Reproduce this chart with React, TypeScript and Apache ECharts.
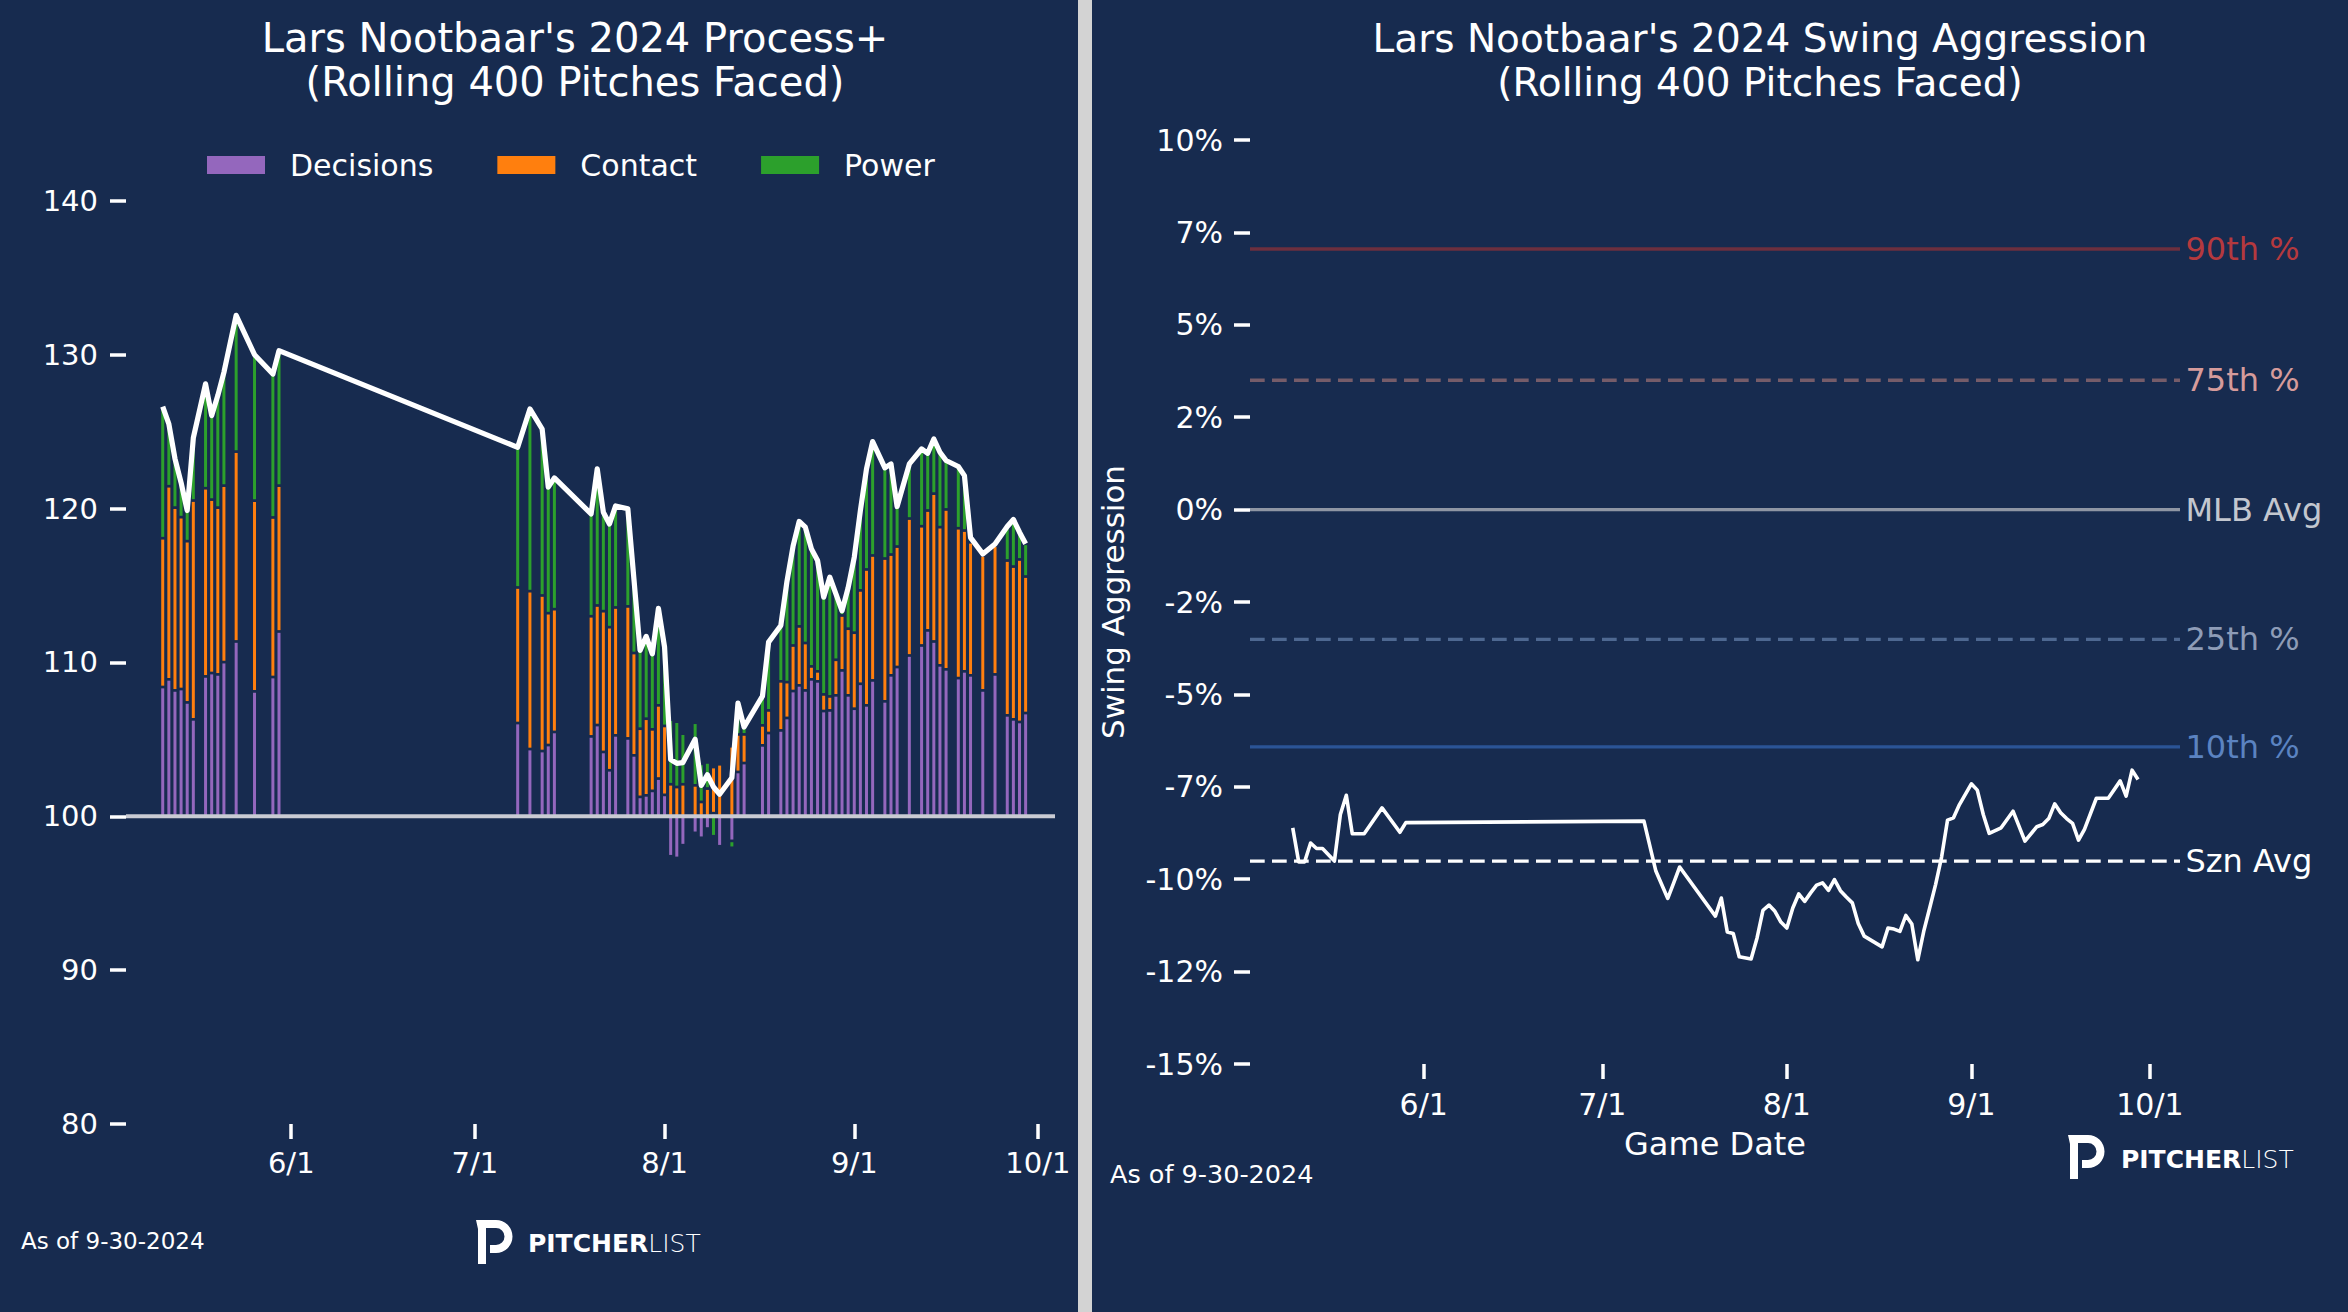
import React, { useEffect, useRef } from 'react';
import * as echarts from 'echarts';

// ---------------- data ----------------
const gameDates = [
  '2024-05-11','2024-05-12','2024-05-13','2024-05-14','2024-05-15','2024-05-16','2024-05-18','2024-05-19','2024-05-20','2024-05-21','2024-05-23','2024-05-26','2024-05-29','2024-05-30',
  '2024-07-08','2024-07-10','2024-07-12','2024-07-13','2024-07-14','2024-07-20','2024-07-21','2024-07-22','2024-07-23','2024-07-24','2024-07-26','2024-07-27','2024-07-28','2024-07-29','2024-07-30','2024-07-31','2024-08-01','2024-08-02','2024-08-03',
  '2024-08-04','2024-08-06','2024-08-07','2024-08-08','2024-08-09','2024-08-10','2024-08-12','2024-08-13','2024-08-14','2024-08-17','2024-08-18','2024-08-20','2024-08-21','2024-08-22','2024-08-23','2024-08-24','2024-08-25','2024-08-26','2024-08-27','2024-08-28','2024-08-29','2024-08-30','2024-08-31','2024-09-01','2024-09-02',
  '2024-09-03','2024-09-04','2024-09-06','2024-09-07','2024-09-08','2024-09-10','2024-09-12','2024-09-13','2024-09-14','2024-09-15','2024-09-16','2024-09-18','2024-09-19','2024-09-20','2024-09-22','2024-09-24','2024-09-26','2024-09-27','2024-09-28','2024-09-29',
];
// components above/below 100
const decisions = [
  8.4, 8.9, 8.18, 8.27, 7.4, 6.3, 9.09, 9.31, 9.22, 10.02, 11.36, 8.12, 9.05, 12.01,
  6.06, 4.37, 4.24, 4.63, 5.48, 5.19, 5.93, 4.18, 2.99, 5.26, 5.06, 3.96, 1.26, 1.36, 1.65, 2.45, 1.39, -2.6, -2.71,
  -1.88, -1.08, -1.4, -0.8, 0.2, -1.95, -1.6, 2.88, 3.46, 4.61, 5.41, 5.58, 6.39, 8.14, 8.51, 8.18, 8.9, 8.77, 6.84, 6.88, 7.86, 9.48, 7.86, 6.99, 8.61,
  7.21, 8.83, 7.47, 9.16, 9.7, 10.45, 11.1, 12.08, 11.36, 9.81, 9.55, 8.98, 9.42, 9.16, 8.18, 9.22, 6.56, 6.3, 6.13, 6.71,
];
const contact = [
  9.67, 12.55, 11.88, 11.17, 10.48, 14.22, 12.23, 11.27, 10.84, 11.47, 12.34, 12.4, 10.37, 9.48,
  8.81, 10.26, 10.11, 8.57, 7.98, 7.81, 7.77, 9.15, 9.3, 8.31, 8.58, 6.65, 4.43, 4.98, 4.0, 4.76, 4.48, 2.08, 1.9,
  2.08, 2.01, 0.93, 1.8, 3.0, 3.38, 4.55, 2.44, 1.86, 1.3, 1.47, 3.19, 2.33, 2.96, 3.83, 3.08, 0.84, 0.65, 1.08, 0.91, 2.31, 3.57, 4.33, 4.94, 6.07,
  8.83, 8.12, 9.28, 7.85, 7.83, 8.9, 7.75, 7.79, 9.61, 8.98, 10.39, 9.74, 9.15, 8.65, 8.77, 8.38, 10.06, 9.93, 10.56, 8.87,
];
const power = [
  8.55, 4.05, 3.19, 2.25, 1.99, 4.07, 6.78, 5.46, 7.28, 7.36, 8.86, 9.48, 9.32, 8.77,
  9.11, 11.84, 10.82, 8.19, 8.53, 6.65, 8.88, 6.43, 6.71, 6.6, 6.34, 4.8, 5.09, 5.35, 4.91, 6.3, 5.13, 4.2, 4.25,
  3.29, 4.07, 2.48, 1.7, -1.3, 0, -0.45, 2.04, 0.48, 1.9, 4.44, 3.63, 6.54, 6.45, 6.82, 7.53, 7.64, 7.2, 6.32, 7.75, 4.29, 0.3, 2.66, 4.91, 5.19,
  6.54, 7.4, 5.89, 5.89, 2.6, 3.55, 5.02, 3.72, 3.55, 4.87, 3.18, 4.01, 3.57, 0.3, 0.1, 0.1, 2.21, 3.06, 1.77, 2.13,
];

const swingDates = [
  '2024-05-10','2024-05-11','2024-05-12','2024-05-13','2024-05-14','2024-05-15','2024-05-17','2024-05-18','2024-05-19','2024-05-20','2024-05-22','2024-05-25','2024-05-28','2024-05-29',
  '2024-07-08','2024-07-10','2024-07-12','2024-07-13','2024-07-14','2024-07-20','2024-07-21','2024-07-22','2024-07-23','2024-07-24','2024-07-26','2024-07-27','2024-07-28','2024-07-29','2024-07-30','2024-07-31',
  '2024-08-01','2024-08-02','2024-08-03','2024-08-04','2024-08-05','2024-08-06','2024-08-07','2024-08-08','2024-08-09','2024-08-10','2024-08-11','2024-08-12','2024-08-13','2024-08-14',
  '2024-08-17','2024-08-18','2024-08-19','2024-08-20','2024-08-21','2024-08-22','2024-08-23','2024-08-24','2024-08-25','2024-08-26','2024-08-27','2024-08-28','2024-08-29','2024-08-30',
  '2024-09-01','2024-09-02','2024-09-03','2024-09-04','2024-09-06','2024-09-08','2024-09-10','2024-09-12','2024-09-13','2024-09-14','2024-09-15','2024-09-16','2024-09-17','2024-09-18','2024-09-19','2024-09-20','2024-09-22','2024-09-24','2024-09-26','2024-09-27','2024-09-28','2024-09-29',
];
const swingValues = [
  -8.61, -9.53, -9.53, -9.02, -9.17, -9.17, -9.51, -8.25, -7.73, -8.77, -8.77, -8.07, -8.73, -8.47,
  -8.43, -9.78, -10.52, -10.1, -9.67, -11.0, -10.51, -11.43, -11.47, -12.1, -12.16, -11.59, -10.84, -10.7, -10.87, -11.16,
  -11.32, -10.78, -10.4, -10.6, -10.37, -10.16, -10.1, -10.3, -10.01, -10.31, -10.48, -10.64, -11.2, -11.54,
  -11.83, -11.32, -11.35, -11.41, -10.98, -11.21, -12.18, -11.41, -10.78, -10.14, -9.4, -8.4, -8.34, -7.98,
  -7.42, -7.59, -8.25, -8.76, -8.61, -8.16, -8.97, -8.58, -8.52, -8.36, -7.96, -8.2, -8.36, -8.49, -8.94, -8.65, -7.81, -7.81, -7.34, -7.75, -7.05, -7.3,
];

const refNames = ['90th %', '75th %', 'MLB Avg', '25th %', '10th %', 'Szn Avg'];
const refValues = [7.05, 3.5, 0, -3.51, -6.42, -9.51];

const monthTicks = ['2024-06-01', '2024-07-01', '2024-08-01', '2024-09-01', '2024-10-01'];
const monthLabels = ['6/1', '7/1', '8/1', '9/1', '10/1'];
const processTickLabels = ['80', '90', '100', '110', '120', '130', '140'];
const swingTickLabels = ['-15%', '-12%', '-10%', '-7%', '-5%', '-2%', '0%', '2%', '5%', '7%', '10%'];

// ---------------- styling ----------------
const BG = '#172b4f';
const FONT = "'DejaVu Sans', 'Noto Sans', sans-serif";
const DAY = 86400000;
const ts = (s: string) => Date.parse(s + 'T00:00:00Z');
const JUN1 = ts('2024-06-01');
const refLineColors = ['#6d2f3e', '#765c69', '#8f96a4', '#4e6891', '#2b5496', '#ffffff'];
const refLabelColors = ['#b5393e', '#d69b9b', '#c3c7cf', '#8e9cb7', '#5b83c1', '#ffffff'];
const refDashed = [false, true, false, true, false, true];
const BAR_W = 3.0;   // visible bar width (px)
const BAR_GAP = 1.35; // dark edge between stacked pieces (px, each side)

const P_PATH = 'M0,0 L20,0 A16.5,16.5 0 0 1 20,33 L14,33 L14,25 L20,25 A8.5,8.5 0 0 0 20,8 L10,8 L10,44 L2,44 L2,9 Z';
let registered = false;
function ensureShape() {
  if (registered) return;
  echarts.graphic.registerShape('plogo', echarts.graphic.extendPath(P_PATH, {}) as any);
  registered = true;
}

function monthLabel(v: number) {
  const mt = monthTicks.map(ts);
  for (let i = 0; i < mt.length; i++) if (Math.abs(mt[i] - v) < DAY / 2) return monthLabels[i];
  return '';
}

function logo(x: number, y: number, tx: number, ty: number) {
  return [
    { type: 'plogo', x, y, style: { fill: '#ffffff' }, silent: true },
    {
      type: 'text', x: tx, y: ty, silent: true,
      style: {
        text: '{b|PITCHER}{l|LIST}', align: 'left', verticalAlign: 'middle',
        rich: {
          b: { fontFamily: FONT, fontWeight: 'bold', fontSize: 25, fill: '#ffffff' },
          l: { fontFamily: FONT, fontWeight: 200, fontSize: 25, fill: '#ffffff' },
        },
      },
    },
  ];
}

// stacked piece k of a Process+ bar, same-sign stacking from 100
function makeRenderItem(k: number, color: string) {
  return (params: any, api: any) => {
    const t = api.value(0);
    const vals = [api.value(1), api.value(2), api.value(3)];
    let pos = 0, neg = 0, from = 0, to = 0;
    for (let j = 0; j <= k; j++) {
      const v = vals[j];
      if (v >= 0) { from = pos; to = pos + v; pos = to; } else { from = neg; to = neg + v; neg = to; }
    }
    const p1 = api.coord([t, from]);
    const p2 = api.coord([t, to]);
    const yTop = Math.min(p1[1], p2[1]) + BAR_GAP;
    const yBot = Math.max(p1[1], p2[1]) - BAR_GAP;
    if (yBot - yTop <= 0.2) return null;
    return {
      type: 'rect',
      shape: { x: p1[0] - BAR_W / 2, y: yTop, width: BAR_W, height: yBot - yTop },
      style: { fill: color },
    };
  };
}

function buildOption() {
  const gts = gameDates.map(ts);
  const sts = swingDates.map(ts);
  const mts = monthTicks.map(ts);
  const xMinL = JUN1 - 27.0 * DAY;
  const xMaxL = JUN1 + 124.8 * DAY;
  const xMinR = JUN1 - 29.18 * DAY;
  const xMaxR = JUN1 + 127.05 * DAY;

  const colors = ['#9467bd', '#ff7f0e', '#2ca02c'];
  const names = ['Decisions', 'Contact', 'Power'];
  const barData = gts.map((t, i) => [t, decisions[i], contact[i], power[i]]);
  const bars = names.map((n, k) => ({
    type: 'custom', name: n, xAxisIndex: 0, yAxisIndex: 0,
    data: barData, encode: { x: 0, y: k + 1 },
    renderItem: makeRenderItem(k, colors[k]),
    itemStyle: { color: colors[k] },
    clip: true, silent: true, z: 2,
  }));

  const totals = gts.map((t, i) => [t, decisions[i] + contact[i] + power[i]]);

  const refSeries = refNames.map((n, k) => ({
    type: 'line', name: n, xAxisIndex: 1, yAxisIndex: 1,
    data: [[xMinR, refValues[k]], [xMaxR, refValues[k]]],
    symbol: 'none', silent: true, z: 2,
    lineStyle: { color: refLineColors[k], width: 3.4, type: refDashed[k] ? [14.7, 7.3] : 'solid' },
    endLabel: { show: true, formatter: n, color: refLabelColors[k], fontSize: 32, fontFamily: FONT, distance: 5.5 },
  }));

  const tickStyle = { color: '#ffffff', width: 3.5 };

  return {
    animation: false,
    backgroundColor: BG,
    textStyle: { fontFamily: FONT },
    grid: [
      { left: 126, top: 200.8, width: 929, height: 923.2, containLabel: false },
      { left: 1250, top: 140, width: 930, height: 924, containLabel: false },
    ],
    legend: {
      data: names, left: 207, top: 150, padding: 0, itemWidth: 58, itemHeight: 18, itemGap: 64, icon: 'rect',
      itemStyle: { borderWidth: 0 },
      textStyle: { color: '#ffffff', fontSize: 30, fontFamily: FONT, padding: [0, 0, 0, 20] },
      selectedMode: false,
    },
    xAxis: [
      {
        type: 'value', gridIndex: 0, min: xMinL, max: xMaxL, scale: true,
        axisLine: { show: false, onZero: false }, splitLine: { show: false },
        axisTick: { show: true, customValues: mts, length: 15, lineStyle: tickStyle },
        axisLabel: { show: true, customValues: mts, formatter: (v: number) => monthLabel(v), color: '#ffffff', fontSize: 29, fontFamily: FONT, margin: 24 },
      },
      {
        type: 'value', gridIndex: 1, min: xMinR, max: xMaxR, scale: true,
        axisLine: { show: false, onZero: false }, splitLine: { show: false },
        axisTick: { show: true, customValues: mts, length: 15, lineStyle: tickStyle },
        axisLabel: { show: true, customValues: mts, formatter: (v: number) => monthLabel(v), color: '#ffffff', fontSize: 30, fontFamily: FONT, margin: 25 },
        name: 'Game Date', nameLocation: 'middle', nameGap: 64,
        nameTextStyle: { color: '#ffffff', fontSize: 32, fontFamily: FONT },
      },
    ],
    yAxis: [
      {
        type: 'value', gridIndex: 0, min: -20, max: 40, interval: 10,
        axisLine: { show: false, onZero: false }, splitLine: { show: false },
        axisTick: { show: true, length: 16, lineStyle: tickStyle },
        axisLabel: { formatter: (v: number) => processTickLabels[Math.round((v + 20) / 10)], color: '#ffffff', fontSize: 29, fontFamily: FONT, margin: 28 },
      },
      {
        type: 'value', gridIndex: 1, min: -15, max: 10, interval: 2.5,
        axisLine: { show: false, onZero: false }, splitLine: { show: false },
        axisTick: { show: true, length: 16, lineStyle: tickStyle },
        axisLabel: { formatter: (v: number) => swingTickLabels[Math.round((v + 15) / 2.5)], color: '#ffffff', fontSize: 30, fontFamily: FONT, margin: 27 },
        name: 'Swing Aggression', nameLocation: 'middle', nameRotate: 90, nameGap: 122,
        nameTextStyle: { color: '#ffffff', fontSize: 31, fontFamily: FONT },
      },
    ],
    series: [
      ...bars,
      {
        type: 'line', name: 'baseline', xAxisIndex: 0, yAxisIndex: 0,
        data: [[xMinL, 0], [xMaxL, 0]], symbol: 'none', silent: true, z: 3,
        lineStyle: { color: '#c9cbd3', width: 4.2 },
      },
      {
        type: 'line', name: 'Process+', xAxisIndex: 0, yAxisIndex: 0,
        data: totals, symbol: 'none', z: 4,
        lineStyle: { color: '#ffffff', width: 5.2, join: 'round' },
      },
      ...refSeries,
      {
        type: 'line', name: 'Swing Aggression', xAxisIndex: 1, yAxisIndex: 1,
        data: sts.map((t, i) => [t, swingValues[i]]), symbol: 'none', z: 4,
        lineStyle: { color: '#ffffff', width: 3.6, join: 'round' },
      },
    ],
    graphic: [
      { type: 'rect', shape: { x: 1078, y: 0, width: 14, height: 1312 }, style: { fill: '#d3d3d3' }, silent: true },
      {
        type: 'text', x: 575, y: 16, silent: true,
        style: {
          text: "Lars Nootbaar's 2024 Process+\n(Rolling 400 Pitches Faced)",
          fill: '#ffffff', fontSize: 40, fontFamily: FONT, lineHeight: 44,
          align: 'center', verticalAlign: 'top',
        },
      },
      {
        type: 'text', x: 1760, y: 16, silent: true,
        style: {
          text: "Lars Nootbaar's 2024 Swing Aggression\n(Rolling 400 Pitches Faced)",
          fill: '#ffffff', fontSize: 39, fontFamily: FONT, lineHeight: 44,
          align: 'center', verticalAlign: 'top',
        },
      },
      {
        type: 'text', x: 21, y: 1241, silent: true,
        style: { text: 'As of 9-30-2024', fill: '#ffffff', fontSize: 23, fontFamily: FONT, align: 'left', verticalAlign: 'middle' },
      },
      {
        type: 'text', x: 1110, y: 1173.5, silent: true,
        style: { text: 'As of 9-30-2024', fill: '#ffffff', fontSize: 25.5, fontFamily: FONT, align: 'left', verticalAlign: 'middle' },
      },
      ...logo(476, 1220, 528, 1243),
      ...logo(2068, 1135, 2121, 1159),
    ],
  };
}

export default function App() {
  const ref = useRef<HTMLDivElement>(null);
  useEffect(() => {
    document.body.style.margin = '0';
    ensureShape();
    const chart = echarts.init(ref.current as HTMLDivElement, undefined, { renderer: 'svg', width: 2348, height: 1312 });
    chart.setOption(buildOption() as any);
    return () => chart.dispose();
  }, []);
  return <div ref={ref} style={{ position: 'absolute', left: 0, top: 0, width: 2348, height: 1312 }} />;
}
